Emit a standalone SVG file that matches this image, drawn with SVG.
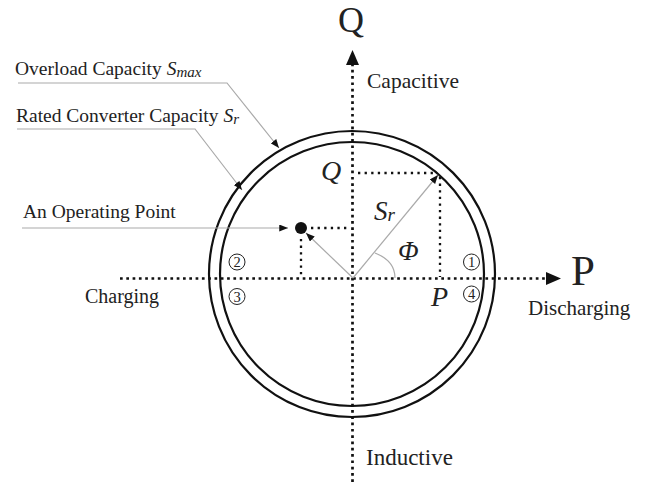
<svg xmlns="http://www.w3.org/2000/svg" width="658" height="482" viewBox="0 0 658 482">
<style>
text{font-family:"Liberation Serif","Times New Roman",serif;fill:#222}
.it{font-style:italic}
.axis{stroke:#111;stroke-width:2.7;stroke-dasharray:2.7 3.6;fill:none}
.proj{stroke:#111;stroke-width:2.3;stroke-dasharray:2.3 4.3;fill:none}
.lead{stroke:#aaa;stroke-width:1.2;fill:none}
.ring{stroke:#111;stroke-width:2.2;fill:none}
.num{font-size:14.5px;text-anchor:middle}
.nc{stroke:#222;stroke-width:1;fill:none}
</style>
<defs>
<marker id="ah" viewBox="0 0 10 8" refX="10" refY="4" markerWidth="9" markerHeight="7" markerUnits="userSpaceOnUse" orient="auto">
<path d="M0,0 L10,4 L0,8 z" fill="#111"/>
</marker>
</defs>

<g id="circles">
<circle class="ring" cx="352" cy="274" r="143"/>
<circle class="ring" cx="352" cy="274" r="132"/>
</g>

<g id="connectors">
<line class="axis" x1="120" y1="278.5" x2="547" y2="278.5"/>
<polygon points="546,272 561,278.5 546,285" fill="#111"/>
<line class="axis" x1="352.5" y1="482" x2="352.5" y2="64"/>
<polygon points="346,65 352.5,50 359,65" fill="#111"/>
<line class="proj" x1="358" y1="173" x2="437" y2="173"/>
<line class="proj" x1="440" y1="177" x2="440" y2="277"/>
<line class="proj" x1="311" y1="228" x2="349" y2="228"/>
<line class="proj" x1="301" y1="239" x2="301" y2="277"/>
<line class="lead" x1="353" y1="278" x2="438" y2="175" marker-end="url(#ah)"/>
<line class="lead" x1="353" y1="278" x2="306" y2="233" marker-end="url(#ah)"/>
<path class="lead" d="M375,253 C388,258 395,266 395,278"/>
<polyline class="lead" points="18,83 227,83 279,148" marker-end="url(#ah)"/>
<polyline class="lead" points="17,129 195,129 242,190" marker-end="url(#ah)"/>
<line class="lead" x1="22" y1="228" x2="288" y2="228" marker-end="url(#ah)"/>
</g>

<g id="operating-point">
<circle cx="301" cy="228" r="6" fill="#111"/>
</g>

<g id="axis-labels">
<text x="351" y="32" font-size="36" text-anchor="middle">Q</text>
<text x="571" y="285" font-size="43">P</text>
<text x="367" y="88" font-size="21.5">Capacitive</text>
<text x="366" y="465" font-size="23">Inductive</text>
<text x="85" y="303" font-size="20">Charging</text>
<text x="528" y="315" font-size="21">Discharging</text>
</g>

<g id="callouts">
<text x="15" y="75" font-size="19.5">Overload Capacity <tspan class="it">S</tspan><tspan class="it" font-size="15" dy="2">max</tspan></text>
<text x="16" y="122" font-size="19.5">Rated Converter Capacity <tspan class="it">S</tspan><tspan class="it" font-size="15" dy="2">r</tspan></text>
<text x="23" y="218" font-size="19.5">An Operating Point</text>
</g>

<g id="vector-labels">
<text class="it" x="321" y="180" font-size="28">Q</text>
<text class="it" x="374" y="220" font-size="27">S<tspan font-size="19" dy="1">r</tspan></text>
<text class="it" x="398" y="260" font-size="27">Φ</text>
<text class="it" x="431" y="306" font-size="28">P</text>
</g>

<g id="quadrants">
<circle class="nc" cx="471.5" cy="262" r="8"/><text class="num" x="471.5" y="267">1</text>
<circle class="nc" cx="237" cy="262" r="8"/><text class="num" x="237" y="267">2</text>
<circle class="nc" cx="237" cy="296.5" r="8"/><text class="num" x="237" y="301.5">3</text>
<circle class="nc" cx="471.5" cy="294" r="8"/><text class="num" x="471.5" y="299">4</text>
</g>
</svg>
